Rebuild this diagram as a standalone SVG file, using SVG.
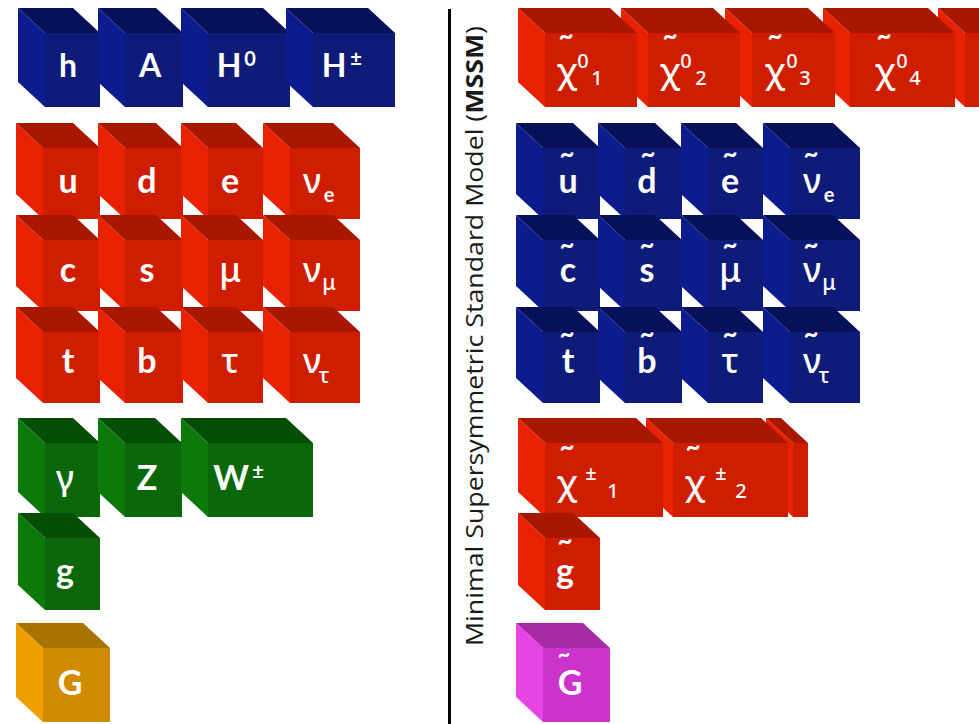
<svg xmlns="http://www.w3.org/2000/svg" width="979" height="724" viewBox="0 0 979 724">
  <style>
    .blue .t{fill:#07115a}.blue .l{fill:#0c1c8e}.blue .f{fill:#0e1b79}
    .red .t{fill:#a81700}.red .l{fill:#e82200}.red .f{fill:#cf1d00}
    .green .t{fill:#064d06}.green .l{fill:#0b7a0b}.green .f{fill:#0a680a}
    .orange .t{fill:#a97300}.orange .l{fill:#ee9e00}.orange .f{fill:#d08b00}
    .magenta .t{fill:#a92aa6}.magenta .l{fill:#e545e3}.magenta .f{fill:#cc33cb}
    text{fill:#fff;text-anchor:middle}
    .lb{font-family:Lato,'Open Sans',sans-serif;font-weight:700;font-size:34px}
    .hg{font-family:Lato,'Open Sans',sans-serif;font-weight:700;font-size:32px}
    .gk{font-family:'Noto Sans','DejaVu Sans',sans-serif;font-weight:500;font-size:34px}
    .ss{font-family:Lato,'Open Sans',sans-serif;font-weight:700;font-size:20px}
    .sg{font-family:'Noto Sans','DejaVu Sans',sans-serif;font-weight:500;font-size:21px}
    .sn{font-family:'Noto Sans','DejaVu Sans',sans-serif;font-weight:500;font-size:20px}
    .tl{font-family:Lato,'Open Sans',sans-serif;font-weight:700;font-size:26px}
    .cap{fill:#1a1a1a;font-family:'Open Sans','Noto Sans',sans-serif;font-size:24px}
  </style>

  <!-- Standard Model: Higgs sector -->
  <g id="h" class="blue">
    <g transform="translate(45,33)"><polygon class="t" points="-27,-25 28,-25 55,0 0,0"/><polygon class="l" points="-27,-25 0,0 0,74 -27,49"/><rect class="f" width="55" height="74"/></g>
    <text class="hg" x="68" y="77">h</text>
  </g>
  <g id="A" class="blue">
    <g transform="translate(125,33)"><polygon class="t" points="-27,-25 31,-25 58,0 0,0"/><polygon class="l" points="-27,-25 0,0 0,74 -27,49"/><rect class="f" width="58" height="74"/></g>
    <text class="hg" x="150" y="77">A</text>
  </g>
  <g id="H0" class="blue">
    <g transform="translate(208,33)"><polygon class="t" points="-27,-25 55,-25 82,0 0,0"/><polygon class="l" points="-27,-25 0,0 0,74 -27,49"/><rect class="f" width="82" height="74"/></g>
    <text class="hg" x="229" y="77">H</text><text class="ss" x="250" y="66">0</text>
  </g>
  <g id="Hpm" class="blue">
    <g transform="translate(313,33)"><polygon class="t" points="-27,-25 55,-25 82,0 0,0"/><polygon class="l" points="-27,-25 0,0 0,74 -27,49"/><rect class="f" width="82" height="74"/></g>
    <text class="hg" x="334" y="77">H</text><text class="ss" x="356" y="66">±</text>
  </g>

  <!-- Standard Model: fermions -->
  <g id="u" class="red">
    <g transform="translate(43,148)"><polygon class="t" points="-27,-25 30,-25 57,0 0,0"/><polygon class="l" points="-27,-25 0,0 0,71 -27,46"/><rect class="f" width="57" height="71"/></g>
    <text class="lb" x="68" y="193">u</text>
  </g>
  <g id="d" class="red">
    <g transform="translate(125,148)"><polygon class="t" points="-27,-25 31,-25 58,0 0,0"/><polygon class="l" points="-27,-25 0,0 0,71 -27,46"/><rect class="f" width="58" height="71"/></g>
    <text class="lb" x="147" y="193">d</text>
  </g>
  <g id="e" class="red">
    <g transform="translate(208,148)"><polygon class="t" points="-27,-25 28,-25 55,0 0,0"/><polygon class="l" points="-27,-25 0,0 0,71 -27,46"/><rect class="f" width="55" height="71"/></g>
    <text class="lb" x="230" y="193">e</text>
  </g>
  <g id="nu_e" class="red">
    <g transform="translate(290,148)"><polygon class="t" points="-27,-25 43,-25 70,0 0,0"/><polygon class="l" points="-27,-25 0,0 0,71 -27,46"/><rect class="f" width="70" height="71"/></g>
    <text class="gk" x="312" y="193">ν</text><text class="ss" x="329" y="202">e</text>
  </g>
  <g id="c" class="red">
    <g transform="translate(43,240)"><polygon class="t" points="-27,-25 30,-25 57,0 0,0"/><polygon class="l" points="-27,-25 0,0 0,71 -27,46"/><rect class="f" width="57" height="71"/></g>
    <text class="lb" x="68" y="282">c</text>
  </g>
  <g id="s" class="red">
    <g transform="translate(125,240)"><polygon class="t" points="-27,-25 31,-25 58,0 0,0"/><polygon class="l" points="-27,-25 0,0 0,71 -27,46"/><rect class="f" width="58" height="71"/></g>
    <text class="lb" x="147" y="282">s</text>
  </g>
  <g id="mu" class="red">
    <g transform="translate(208,240)"><polygon class="t" points="-27,-25 28,-25 55,0 0,0"/><polygon class="l" points="-27,-25 0,0 0,71 -27,46"/><rect class="f" width="55" height="71"/></g>
    <text class="gk" x="230" y="282">μ</text>
  </g>
  <g id="nu_mu" class="red">
    <g transform="translate(290,240)"><polygon class="t" points="-27,-25 43,-25 70,0 0,0"/><polygon class="l" points="-27,-25 0,0 0,71 -27,46"/><rect class="f" width="70" height="71"/></g>
    <text class="gk" x="312" y="282">ν</text><text class="sg" x="329" y="290">μ</text>
  </g>
  <g id="t" class="red">
    <g transform="translate(43,332)"><polygon class="t" points="-27,-25 30,-25 57,0 0,0"/><polygon class="l" points="-27,-25 0,0 0,71 -27,46"/><rect class="f" width="57" height="71"/></g>
    <text class="lb" x="68" y="373">t</text>
  </g>
  <g id="b" class="red">
    <g transform="translate(125,332)"><polygon class="t" points="-27,-25 31,-25 58,0 0,0"/><polygon class="l" points="-27,-25 0,0 0,71 -27,46"/><rect class="f" width="58" height="71"/></g>
    <text class="lb" x="147" y="373">b</text>
  </g>
  <g id="tau" class="red">
    <g transform="translate(208,332)"><polygon class="t" points="-27,-25 28,-25 55,0 0,0"/><polygon class="l" points="-27,-25 0,0 0,71 -27,46"/><rect class="f" width="55" height="71"/></g>
    <text class="gk" x="230" y="373">τ</text>
  </g>
  <g id="nu_tau" class="red">
    <g transform="translate(290,332)"><polygon class="t" points="-27,-25 43,-25 70,0 0,0"/><polygon class="l" points="-27,-25 0,0 0,71 -27,46"/><rect class="f" width="70" height="71"/></g>
    <text class="gk" x="312" y="373">ν</text><text class="sg" x="324" y="383">τ</text>
  </g>

  <!-- Standard Model: gauge bosons -->
  <g id="gamma" class="green">
    <g transform="translate(45,443)"><polygon class="t" points="-27,-25 28,-25 55,0 0,0"/><polygon class="l" points="-27,-25 0,0 0,74 -27,49"/><rect class="f" width="55" height="74"/></g>
    <text class="gk" x="65" y="490">γ</text>
  </g>
  <g id="Z" class="green">
    <g transform="translate(125,443)"><polygon class="t" points="-27,-25 30,-25 57,0 0,0"/><polygon class="l" points="-27,-25 0,0 0,74 -27,49"/><rect class="f" width="57" height="74"/></g>
    <text class="lb" x="147" y="490">Z</text>
  </g>
  <g id="Wpm" class="green">
    <g transform="translate(208,443)"><polygon class="t" points="-27,-25 78,-25 105,0 0,0"/><polygon class="l" points="-27,-25 0,0 0,74 -27,49"/><rect class="f" width="105" height="74"/></g>
    <text class="lb" x="231" y="490">W</text><text class="ss" x="258" y="479">±</text>
  </g>
  <g id="g" class="green">
    <g transform="translate(45,538)"><polygon class="t" points="-27,-25 28,-25 55,0 0,0"/><polygon class="l" points="-27,-25 0,0 0,72 -27,47"/><rect class="f" width="55" height="72"/></g>
    <text class="lb" x="65" y="583">g</text>
  </g>
  <g id="G" class="orange">
    <g transform="translate(43,648)"><polygon class="t" points="-27,-25 40,-25 67,0 0,0"/><polygon class="l" points="-27,-25 0,0 0,74 -27,49"/><rect class="f" width="67" height="74"/></g>
    <text class="lb" x="70" y="695">G</text>
  </g>

  <!-- divider and caption -->
  <line x1="449.5" y1="9" x2="449.5" y2="724" stroke="#000" stroke-width="3"/>
  <text class="cap" transform="translate(483,336) rotate(-90)" textLength="620" lengthAdjust="spacingAndGlyphs">Minimal Supersymmetric Standard Model (<tspan font-weight="700">MSSM</tspan>)</text>

  <!-- MSSM: neutralinos (drawn right to left) -->
  <g id="chi0_tail" class="red">
    <g transform="translate(965,33)"><polygon class="t" points="-27,-25 65,-25 92,0 0,0"/><polygon class="l" points="-27,-25 0,0 0,74 -27,49"/><rect class="f" width="92" height="74"/></g>
  </g>
  <g id="chi0_4" class="red">
    <g transform="translate(850,33)"><polygon class="t" points="-27,-25 78,-25 105,0 0,0"/><polygon class="l" points="-27,-25 0,0 0,74 -27,49"/><rect class="f" width="105" height="74"/></g>
    <text class="tl" x="884" y="45">~</text><text class="gk" x="885" y="83">χ</text><text class="sn" x="902" y="68">0</text><text class="sn" x="915" y="85">4</text>
  </g>
  <g id="chi0_3" class="red">
    <g transform="translate(752,33)"><polygon class="t" points="-27,-25 56,-25 83,0 0,0"/><polygon class="l" points="-27,-25 0,0 0,74 -27,49"/><rect class="f" width="83" height="74"/></g>
    <text class="tl" x="775" y="45">~</text><text class="gk" x="775" y="83">χ</text><text class="sn" x="792" y="68">0</text><text class="sn" x="805" y="85">3</text>
  </g>
  <g id="chi0_2" class="red">
    <g transform="translate(648,33)"><polygon class="t" points="-27,-25 65,-25 92,0 0,0"/><polygon class="l" points="-27,-25 0,0 0,74 -27,49"/><rect class="f" width="92" height="74"/></g>
    <text class="tl" x="670" y="45">~</text><text class="gk" x="670" y="83">χ</text><text class="sn" x="686" y="68">0</text><text class="sn" x="701" y="85">2</text>
  </g>
  <g id="chi0_1" class="red">
    <g transform="translate(545,33)"><polygon class="t" points="-27,-25 65,-25 92,0 0,0"/><polygon class="l" points="-27,-25 0,0 0,74 -27,49"/><rect class="f" width="92" height="74"/></g>
    <text class="tl" x="566" y="45">~</text><text class="gk" x="567" y="83">χ</text><text class="sn" x="583" y="68">0</text><text class="sn" x="597" y="85">1</text>
  </g>

  <!-- MSSM: sfermions -->
  <g id="su" class="blue">
    <g transform="translate(543,148)"><polygon class="t" points="-27,-25 30,-25 57,0 0,0"/><polygon class="l" points="-27,-25 0,0 0,71 -27,46"/><rect class="f" width="57" height="71"/></g>
    <text class="tl" x="567" y="163">~</text><text class="lb" x="568" y="193">u</text>
  </g>
  <g id="sd" class="blue">
    <g transform="translate(625,148)"><polygon class="t" points="-27,-25 30,-25 57,0 0,0"/><polygon class="l" points="-27,-25 0,0 0,71 -27,46"/><rect class="f" width="57" height="71"/></g>
    <text class="tl" x="648" y="163">~</text><text class="lb" x="647" y="193">d</text>
  </g>
  <g id="se" class="blue">
    <g transform="translate(708,148)"><polygon class="t" points="-27,-25 28,-25 55,0 0,0"/><polygon class="l" points="-27,-25 0,0 0,71 -27,46"/><rect class="f" width="55" height="71"/></g>
    <text class="tl" x="730" y="163">~</text><text class="lb" x="730" y="193">e</text>
  </g>
  <g id="snu_e" class="blue">
    <g transform="translate(790,148)"><polygon class="t" points="-27,-25 43,-25 70,0 0,0"/><polygon class="l" points="-27,-25 0,0 0,71 -27,46"/><rect class="f" width="70" height="71"/></g>
    <text class="tl" x="811" y="163">~</text><text class="gk" x="812" y="193">ν</text><text class="ss" x="829" y="202">e</text>
  </g>
  <g id="sc" class="blue">
    <g transform="translate(543,240)"><polygon class="t" points="-27,-25 30,-25 57,0 0,0"/><polygon class="l" points="-27,-25 0,0 0,71 -27,46"/><rect class="f" width="57" height="71"/></g>
    <text class="tl" x="567" y="254">~</text><text class="lb" x="568" y="282">c</text>
  </g>
  <g id="ss" class="blue">
    <g transform="translate(625,240)"><polygon class="t" points="-27,-25 30,-25 57,0 0,0"/><polygon class="l" points="-27,-25 0,0 0,71 -27,46"/><rect class="f" width="57" height="71"/></g>
    <text class="tl" x="647" y="254">~</text><text class="lb" x="647" y="282">s</text>
  </g>
  <g id="smu" class="blue">
    <g transform="translate(708,240)"><polygon class="t" points="-27,-25 28,-25 55,0 0,0"/><polygon class="l" points="-27,-25 0,0 0,71 -27,46"/><rect class="f" width="55" height="71"/></g>
    <text class="tl" x="730" y="254">~</text><text class="gk" x="730" y="282">μ</text>
  </g>
  <g id="snu_mu" class="blue">
    <g transform="translate(790,240)"><polygon class="t" points="-27,-25 43,-25 70,0 0,0"/><polygon class="l" points="-27,-25 0,0 0,71 -27,46"/><rect class="f" width="70" height="71"/></g>
    <text class="tl" x="811" y="254">~</text><text class="gk" x="812" y="282">ν</text><text class="sg" x="829" y="290">μ</text>
  </g>
  <g id="st" class="blue">
    <g transform="translate(543,332)"><polygon class="t" points="-27,-25 30,-25 57,0 0,0"/><polygon class="l" points="-27,-25 0,0 0,71 -27,46"/><rect class="f" width="57" height="71"/></g>
    <text class="tl" x="567" y="343">~</text><text class="lb" x="568" y="373">t</text>
  </g>
  <g id="sb" class="blue">
    <g transform="translate(625,332)"><polygon class="t" points="-27,-25 30,-25 57,0 0,0"/><polygon class="l" points="-27,-25 0,0 0,71 -27,46"/><rect class="f" width="57" height="71"/></g>
    <text class="tl" x="647" y="343">~</text><text class="lb" x="647" y="373">b</text>
  </g>
  <g id="stau" class="blue">
    <g transform="translate(708,332)"><polygon class="t" points="-27,-25 28,-25 55,0 0,0"/><polygon class="l" points="-27,-25 0,0 0,71 -27,46"/><rect class="f" width="55" height="71"/></g>
    <text class="tl" x="730" y="343">~</text><text class="gk" x="730" y="373">τ</text>
  </g>
  <g id="snu_tau" class="blue">
    <g transform="translate(790,332)"><polygon class="t" points="-27,-25 43,-25 70,0 0,0"/><polygon class="l" points="-27,-25 0,0 0,71 -27,46"/><rect class="f" width="70" height="71"/></g>
    <text class="tl" x="811" y="343">~</text><text class="gk" x="812" y="373">ν</text><text class="sg" x="824" y="383">τ</text>
  </g>

  <!-- MSSM: charginos (drawn right to left) -->
  <g id="chipm_tail" class="red">
    <g transform="translate(793,443)"><polygon class="t" points="-27,-25 -12,-25 15,0 0,0"/><polygon class="l" points="-27,-25 0,0 0,74 -27,49"/><rect class="f" width="15" height="74"/></g>
  </g>
  <g id="chipm_2" class="red">
    <g transform="translate(673,443)"><polygon class="t" points="-27,-25 88,-25 115,0 0,0"/><polygon class="l" points="-27,-25 0,0 0,74 -27,49"/><rect class="f" width="115" height="74"/></g>
    <text class="tl" x="693" y="456">~</text><text class="gk" x="695" y="495">χ</text><text class="sn" x="721" y="480">±</text><text class="sn" x="741" y="498">2</text>
  </g>
  <g id="chipm_1" class="red">
    <g transform="translate(545,443)"><polygon class="t" points="-27,-25 91,-25 118,0 0,0"/><polygon class="l" points="-27,-25 0,0 0,74 -27,49"/><rect class="f" width="118" height="74"/></g>
    <text class="tl" x="567" y="456">~</text><text class="gk" x="567" y="495">χ</text><text class="sn" x="591" y="480">±</text><text class="sn" x="613" y="498">1</text>
  </g>

  <!-- MSSM: gluino and gravitino -->
  <g id="sg" class="red">
    <g transform="translate(545,538)"><polygon class="t" points="-27,-25 28,-25 55,0 0,0"/><polygon class="l" points="-27,-25 0,0 0,72 -27,47"/><rect class="f" width="55" height="72"/></g>
    <text class="tl" x="565" y="550">~</text><text class="lb" x="565" y="583">g</text>
  </g>
  <g id="sG" class="magenta">
    <g transform="translate(543,648)"><polygon class="t" points="-27,-25 40,-25 67,0 0,0"/><polygon class="l" points="-27,-25 0,0 0,74 -27,49"/><rect class="f" width="67" height="74"/></g>
    <text class="tl" x="564" y="662" style="font-size:22px">~</text><text class="lb" x="570" y="695">G</text>
  </g>
</svg>
